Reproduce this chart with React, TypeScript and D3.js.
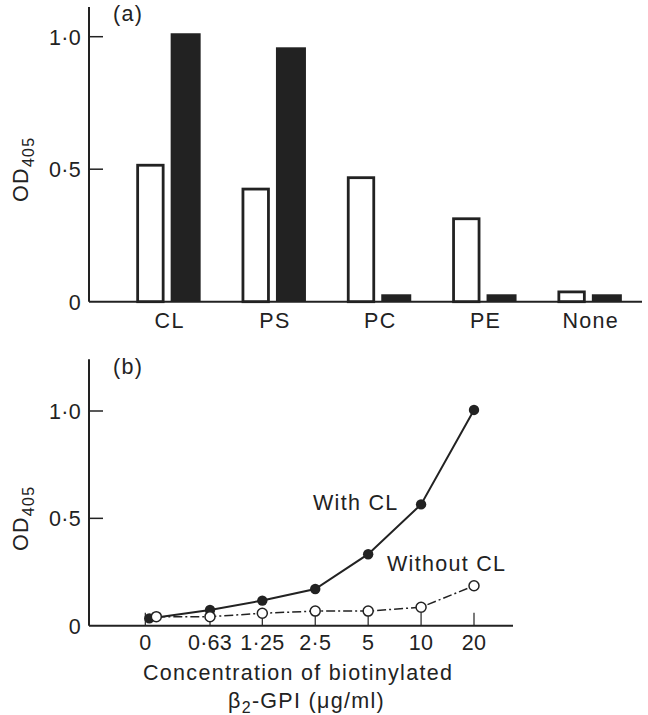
import React, { useEffect, useRef } from 'react'
import * as d3 from 'd3'

// panel (a): OD405 for each phospholipid
const categories = ['CL', 'PS', 'PC', 'PE', 'None']
const openBars = [0.515, 0.425, 0.468, 0.313, 0.037]
const filledBars = [1.013, 0.96, 0.028, 0.028, 0.028]
const yTicksA = [0, 0.5, 1.0]

// panel (b): binding vs concentration of biotinylated b2-GPI
const concLabels = ['0', '0·63', '1·25', '2·5', '5', '10', '20']
const concValues = [0, 0.63, 1.25, 2.5, 5, 10, 20]
const withCL = [0.034, 0.073, 0.117, 0.171, 0.333, 0.565, 1.005]
const withoutCL = [0.042, 0.042, 0.058, 0.068, 0.068, 0.086, 0.186]
const yTicksB = [0, 0.5, 1.0]

const INK = '#222'
const FONT = '"Liberation Sans", Arial, sans-serif'

const fmt = (v: number) => (v === 0 ? '0' : d3.format('.1f')(v).replace('.', '·'))

const App: React.FC = () => {
    const svgRef = useRef<SVGSVGElement | null>(null)

    useEffect(() => {
        if (!svgRef.current) return
        const width = 648
        const height = 715
        const svg = d3.select(svgRef.current).attr('width', width).attr('height', height)
        svg.selectAll('*').remove()

        const axisX = 89

        // ---------- panel (a) ----------
        const yA = d3.scaleLinear().domain([0, 1]).range([301.7, 36.7])
        const x0 = d3.scaleBand<string>().domain(categories).range([116, 642.5])
        const x1 = d3
            .scaleBand<string>()
            .domain(['open', 'filled'])
            .range([x0.bandwidth() / 2 - 35, x0.bandwidth() / 2 + 35])

        const gA = svg.append('g')

        // bars
        categories.forEach((c, i) => {
            const ov = openBars[i]
            gA.append('rect')
                .attr('x', x0(c)! + x1('open')! + 4)
                .attr('y', yA(ov))
                .attr('width', 25.5)
                .attr('height', yA(0) - yA(ov))
                .attr('fill', '#fff')
                .attr('stroke', INK)
                .attr('stroke-width', 2.8)
            const fv = filledBars[i]
            gA.append('rect')
                .attr('x', x0(c)! + x1('filled')! + 2)
                .attr('y', yA(fv))
                .attr('width', 30)
                .attr('height', yA(0) - yA(fv))
                .attr('fill', INK)
        })

        // axes
        gA.append('line')
            .attr('x1', axisX)
            .attr('x2', 642)
            .attr('y1', yA(0))
            .attr('y2', yA(0))
            .attr('stroke', INK)
            .attr('stroke-width', 2)
        gA.append('line')
            .attr('x1', axisX)
            .attr('x2', axisX)
            .attr('y1', yA(1.112))
            .attr('y2', yA(0))
            .attr('stroke', INK)
            .attr('stroke-width', 2)

        yTicksA.forEach((t) => {
            if (t > 0)
                gA.append('line')
                    .attr('x1', axisX)
                    .attr('x2', axisX + 14)
                    .attr('y1', yA(t))
                    .attr('y2', yA(t))
                    .attr('stroke', INK)
                    .attr('stroke-width', 1.5)
            gA.append('text')
                .attr('class', 'num')
                .attr('x', 81)
                .attr('y', yA(t) + 8)
                .attr('text-anchor', 'end')
                .text(fmt(t))
        })

        categories.forEach((c) => {
            gA.append('text')
                .attr('x', x0(c)! + x0.bandwidth() / 2 + 1)
                .attr('y', 328)
                .attr('text-anchor', 'middle')
                .text(c)
        })

        gA.append('text').attr('x', 113).attr('y', 21).text('(a)')

        const odA = gA
            .append('text')
            .attr('transform', `translate(28,${(yA(0) + yA(1)) / 2}) rotate(-90)`)
            .attr('text-anchor', 'middle')
        odA.append('tspan').text('OD')
        odA.append('tspan').attr('font-size', 16).attr('dy', 6).text('405')

        // ---------- panel (b) ----------
        const yB = d3.scaleLinear().domain([0, 1]).range([625.7, 411])
        // log spacing for the dilution series; "0" sits one step left of 0·63
        const xLog = d3.scaleLog().domain([0.63, 20]).range([210, 474])
        const zeroAt = 0.27
        const xB = (v: number) => xLog(v === 0 ? zeroAt : v)

        const gB = svg.append('g')

        gB.append('line')
            .attr('x1', axisX)
            .attr('x2', 513)
            .attr('y1', yB(0))
            .attr('y2', yB(0))
            .attr('stroke', INK)
            .attr('stroke-width', 2)
        gB.append('line')
            .attr('x1', axisX)
            .attr('x2', axisX)
            .attr('y1', yB(1.241))
            .attr('y2', yB(0))
            .attr('stroke', INK)
            .attr('stroke-width', 2)

        yTicksB.forEach((t) => {
            if (t > 0)
                gB.append('line')
                    .attr('x1', axisX)
                    .attr('x2', axisX + 14)
                    .attr('y1', yB(t))
                    .attr('y2', yB(t))
                    .attr('stroke', INK)
                    .attr('stroke-width', 1.5)
            gB.append('text')
                .attr('class', 'num')
                .attr('x', 81)
                .attr('y', yB(t) + 8)
                .attr('text-anchor', 'end')
                .text(fmt(t))
        })

        concValues.forEach((v, i) => {
            gB.append('line')
                .attr('x1', xB(v))
                .attr('x2', xB(v))
                .attr('y1', yB(0))
                .attr('y2', yB(0) - 13)
                .attr('stroke', INK)
                .attr('stroke-width', 1.2)
            gB.append('text')
                .attr('class', 'num')
                .attr('x', xB(v))
                .attr('y', 650)
                .attr('text-anchor', 'middle')
                .text(concLabels[i])
        })

        // the two zero points are drawn just right of the zero tick
        const px = (v: number, dz: number) => xB(v) + (v === 0 ? dz : 0)

        const lineWith = d3
            .line<number>()
            .x((_, i) => px(concValues[i], 4))
            .y((d) => yB(d))
        const lineWithout = d3
            .line<number>()
            .x((_, i) => px(concValues[i], 11))
            .y((d) => yB(d))

        gB.append('path')
            .datum(withCL)
            .attr('d', lineWith)
            .attr('fill', 'none')
            .attr('stroke', INK)
            .attr('stroke-width', 2)

        gB.append('path')
            .datum(withoutCL)
            .attr('d', lineWithout)
            .attr('fill', 'none')
            .attr('stroke', INK)
            .attr('stroke-width', 1.5)
            .attr('stroke-dasharray', '9,3,2,3')

        gB.selectAll('circle.with')
            .data(withCL)
            .join('circle')
            .attr('class', 'with')
            .attr('cx', (_, i) => px(concValues[i], 4))
            .attr('cy', (d) => yB(d))
            .attr('r', 5.2)
            .attr('fill', INK)

        gB.selectAll('circle.without')
            .data(withoutCL)
            .join('circle')
            .attr('class', 'without')
            .attr('cx', (_, i) => px(concValues[i], 11))
            .attr('cy', (d) => yB(d))
            .attr('r', 5)
            .attr('fill', '#fff')
            .attr('stroke', INK)
            .attr('stroke-width', 1.5)

        gB.append('text').attr('x', 313).attr('y', 510).text('With CL')
        gB.append('text').attr('x', 387).attr('y', 571).text('Without CL')

        gB.append('text').attr('x', 143).attr('y', 680).text('Concentration of biotinylated')
        const xt = gB.append('text').attr('x', 228).attr('y', 708)
        xt.append('tspan').text('β')
        xt.append('tspan').attr('font-size', 16).attr('dy', 5).text('2')
        xt.append('tspan').attr('dy', -5).text('-GPI (μg/ml)')

        gB.append('text').attr('x', 113).attr('y', 374).text('(b)')

        const odB = gB
            .append('text')
            .attr('transform', `translate(28,${(yB(0) + yB(1)) / 2}) rotate(-90)`)
            .attr('text-anchor', 'middle')
        odB.append('tspan').text('OD')
        odB.append('tspan').attr('font-size', 16).attr('dy', 6).text('405')

        svg.selectAll('text')
            .attr('font-family', FONT)
            .attr('fill', INK)
            .attr('letter-spacing', 1.3)
        svg.selectAll('g > text').attr('font-size', 21.5)
        // numeric tick labels are set tight, like the original
        svg.selectAll('text.num').attr('letter-spacing', 0.3)
    }, [])

    return (
        <svg
            ref={svgRef}
            style={{ position: 'absolute', left: 0, top: 0, background: '#fff' }}
        ></svg>
    )
}

export default App
